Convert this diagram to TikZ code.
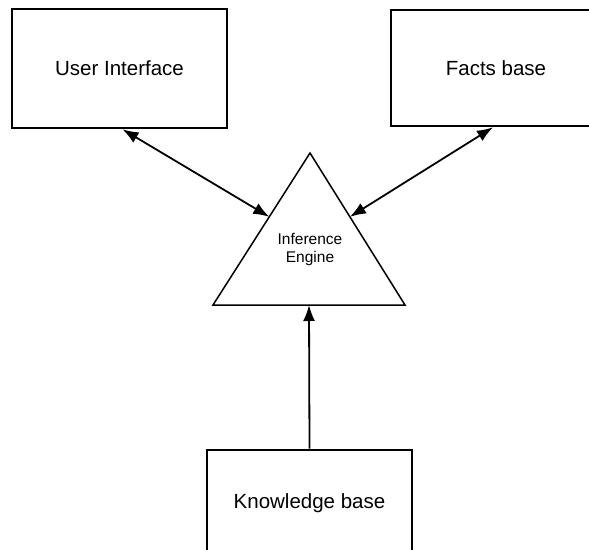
\documentclass[tikz,border=0pt]{standalone}
\usepackage{fontspec}
\setmainfont{Liberation Sans}
\usetikzlibrary{
  arrows.meta,
  calc
}
\tikzset{
  every node/.style={font=\fontsize{20.5}{24}\selectfont, text=black},
  block/.style={
    draw=black,
    line width=2.6pt,
    minimum width=215pt,
    minimum height=119pt,
    inner sep=0pt
  },
  engineline/.style={
    draw=black,
    line width=1.5pt,
    line join=miter
  },
  enginetext/.style={
    font=\fontsize{15.5}{18}\selectfont,
    align=center,
    inner sep=0pt
  },
  link/.style={
    -{Latex[length=16pt,width=12pt]},
    line width=1.8pt,
    draw=black
  },
  duallink/.style={
    {Latex[length=16pt,width=12pt]}-{Latex[length=16pt,width=12pt]},
    line width=1.8pt,
    draw=black
  }
}

\begin{document}
\begin{tikzpicture}[x=1pt, y=-1pt]
  \useasboundingbox (0,0) rectangle (589,549);
  \clip (0,0) rectangle (589,549);

  \node[block] (ui) at (119.5,68.5) {User Interface};
  \node[block, minimum width=210pt, minimum height=116pt] (facts) at (496,68) {Facts base};
  \node[block, minimum width=205pt, minimum height=106pt] (kb) at (309.5,503) {Knowledge base};

  % inference engine triangle
  \coordinate (apex) at (310,153);
  \coordinate (cornerL) at (213,305);
  \coordinate (cornerR) at (405,305);
  \draw[engineline] (apex) -- (cornerR) -- (cornerL) -- cycle;
  \node[enginetext] (engine) at (310,249) {Inference\\Engine};

  \coordinate (sideL) at ($(apex)!0.42!(cornerL)$);
  \coordinate (sideR) at ($(apex)!0.42!(cornerR)$);
  \coordinate (baseM) at ($(cornerL)!0.5!(cornerR)$);

  \draw[duallink] ([xshift=3pt]ui.south) -- (sideL);
  \draw[duallink] ([xshift=-3pt]facts.south) -- (sideR);
  \draw[link] (kb.north) -- (baseM);
\end{tikzpicture}
\end{document}
